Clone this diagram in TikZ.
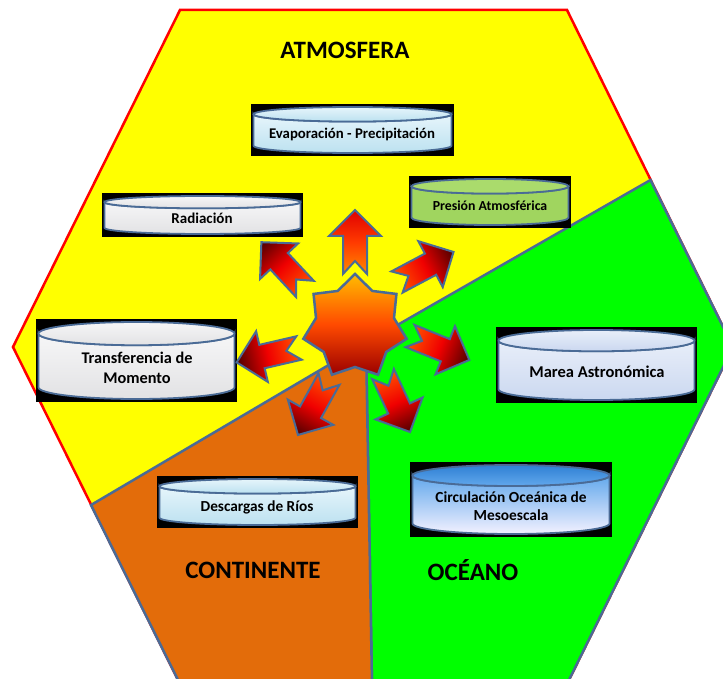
\documentclass[tikz,border=0pt]{standalone}
\usepackage{fontspec}
\setmainfont{Carlito}
\definecolor{hexyellow}{HTML}{FFFF00}
\definecolor{hexgreen}{HTML}{00FF00}
\definecolor{hexbrown}{HTML}{E36C0A}
\definecolor{hexred}{HTML}{FF0000}
\definecolor{edgeblue}{HTML}{4A6B96}
\definecolor{starA}{HTML}{FFBC00}
\definecolor{starB}{HTML}{FF4A00}
\definecolor{starC}{HTML}{9A0000}
\definecolor{arrA}{HTML}{FF5200}
\definecolor{arrB}{HTML}{F00000}
\definecolor{arrC}{HTML}{4E0000}
\definecolor{upA}{HTML}{FF8A00}
\definecolor{upB}{HTML}{FF3A00}
\definecolor{upC}{HTML}{E00000}
\definecolor{waterA}{HTML}{E6F5FB}
\definecolor{waterB}{HTML}{BCE1F0}
\definecolor{lavA}{HTML}{E8EEF9}
\definecolor{lavB}{HTML}{CBD8F0}
\definecolor{marbleA}{HTML}{F6F6F7}
\definecolor{marbleB}{HTML}{E2E2E4}
\definecolor{presGreen}{HTML}{A0D55F}
\definecolor{presGreenTop}{HTML}{AADB6C}
\definecolor{oceA}{HTML}{2F80D4}
\definecolor{oceB}{HTML}{62A8EC}
\definecolor{oceC}{HTML}{F3F1FF}
\tikzset{
  cylline/.style={draw=edgeblue, line width=1.8pt},
  marble/.style={cylline, top color=marbleA, bottom color=marbleB},
  water/.style={cylline, top color=waterA, bottom color=waterB},
  lavender/.style={cylline, top color=lavA, bottom color=lavB},
  pres/.style={cylline, fill=presGreen},
  prestop/.style={cylline, fill=presGreenTop},
  oce/.style={cylline, top color=oceB, bottom color=oceC},
  ocetop/.style={cylline, top color=oceA, bottom color=oceB},
  cyltext/.style={inner sep=0pt, align=center, text=black, font=\bfseries},
  title/.style={inner sep=0pt, text=black, font=\fontsize{25}{30}\selectfont\bfseries},
  blockarrow/.style={draw=edgeblue, line width=2pt, line join=miter, left color=arrA, right color=arrC, middle color=arrB},
  uparrow/.style={draw=edgeblue, line width=2pt, line join=miter, left color=upA, right color=upC, middle color=upB},
}
% cylinder: x1 y1 x2 y2 bodystyle topstyle
\newcommand\mycyl[6]{%
  \pgfmathsetmacro\CyXa{#1+2.5}%
  \pgfmathsetmacro\CyXb{#3-2.5}%
  \pgfmathsetmacro\CyR{0.14*(#4-#2)}%
  \pgfmathsetmacro\CyT{#2+3+\CyR}%
  \pgfmathsetmacro\CyB{#4-3-\CyR}%
  \pgfmathsetmacro\CyRx{(#3-#1-5)/2}%
  \pgfmathsetmacro\CyCx{(#1+#3)/2}%
  \fill[black] (#1,#2) rectangle (#3,#4);
  \path[#5] (\CyXa,\CyT) -- (\CyXa,\CyB) arc[start angle=180,end angle=0,x radius=\CyRx,y radius=\CyR] -- (\CyXb,\CyT) arc[start angle=0,end angle=180,x radius=\CyRx,y radius=\CyR] -- cycle;
  \path[#6] (\CyCx,\CyT) ellipse[x radius=\CyRx, y radius=\CyR];
}
% notched block arrow: rear x, rear y, page angle, style
\newcommand\myarrow[4]{%
  \begin{scope}[transform canvas={shift={(#1,#2)},rotate=#3}]
    \path[#4] (13,0) -- (0,-12) -- (38,-12) -- (38,-26) -- (64,0) -- (38,26) -- (38,12) -- (0,12) -- cycle;
  \end{scope}
}
\begin{document}
\begin{tikzpicture}[x=1pt,y=-1pt]
\useasboundingbox (0,0) rectangle (723,679);
\fill[white] (0,0) rectangle (723,679);
\begin{scope}
\clip (0,0) rectangle (723,679);
% hexagon regions
\path[fill=hexyellow, draw=hexred, line width=2.5pt, line join=miter]
  (180,10) -- (567,10) -- (733,347) -- (567,684) -- (180,684) -- (13,347) -- cycle;
\path[fill=hexgreen, draw=edgeblue, line width=2.5pt, line join=miter]
  (650.5,180) -- (733,347) -- (567,684) -- (372,684) -- (366,343) -- cycle;
\path[fill=hexbrown, draw=edgeblue, line width=2.5pt, line join=miter]
  (366,343) -- (372,684) -- (180,684) -- (91,505) -- cycle;
\end{scope}

% cylinders
\mycyl{251}{104}{454}{156}{water}{water}
\mycyl{409}{176}{571}{228}{pres}{prestop}
\mycyl{102}{193}{303}{237}{marble}{marble}
\mycyl{36}{319}{237}{402}{marble}{marble}
\mycyl{496}{327}{697}{403}{lavender}{lavender}
\mycyl{157}{476}{358}{528}{water}{water}
\mycyl{410}{462}{612}{537}{oce}{ocetop}

\node[cyltext, font=\fontsize{14.8}{18}\selectfont\bfseries] (evap) at (352,134) {Evaporación - Precipitación};
\node[cyltext, font=\fontsize{13.8}{17}\selectfont\bfseries] (pres) at (490,206) {Presión Atmosférica};
\node[cyltext, font=\fontsize{15}{18}\selectfont\bfseries] (rad) at (202,218) {Radiación};
\node[cyltext, font=\fontsize{16.3}{20}\selectfont\bfseries] (trans) at (137,368) {Transferencia de\\Momento};
\node[cyltext, font=\fontsize{16.5}{20}\selectfont\bfseries] (marea) at (597,372) {Marea Astronómica};
\node[cyltext, font=\fontsize{15.3}{18}\selectfont\bfseries] (desc) at (257,507) {Descargas de Ríos};
\node[cyltext, font=\fontsize{15.4}{18.5}\selectfont\bfseries] (circ) at (511,506) {Circulación Oceánica de\\Mesoescala};

% arrows
\myarrow{355}{274}{90}{uparrow}
\myarrow{305}{289}{133}{blockarrow}
\myarrow{397}{282}{28}{blockarrow}
\myarrow{299}{348}{193}{blockarrow}
\myarrow{410}{336}{-22}{blockarrow}
\myarrow{329}{379}{-119}{blockarrow}
\myarrow{383}{374}{-65}{blockarrow}

% star
\begin{scope}[shift={(355,327)}]
\path[draw=edgeblue, line width=2.5pt, line join=miter, top color=starA, bottom color=starC, middle color=starB]
  (-90:53) foreach \k in {1,...,6} { -- ({-90+(\k-0.5)*360/7}:40) -- ({-90+\k*360/7}:53) } -- ({-90+6.5*360/7}:40) -- cycle;
\end{scope}

% titles
\node[title] (atm) at (345,50) {ATMOSFERA};
\node[title] (cont) at (253,570) {CONTINENTE};
\node[title] (ocean) at (473,570) {OCÉANO};
\end{tikzpicture}
\end{document}
